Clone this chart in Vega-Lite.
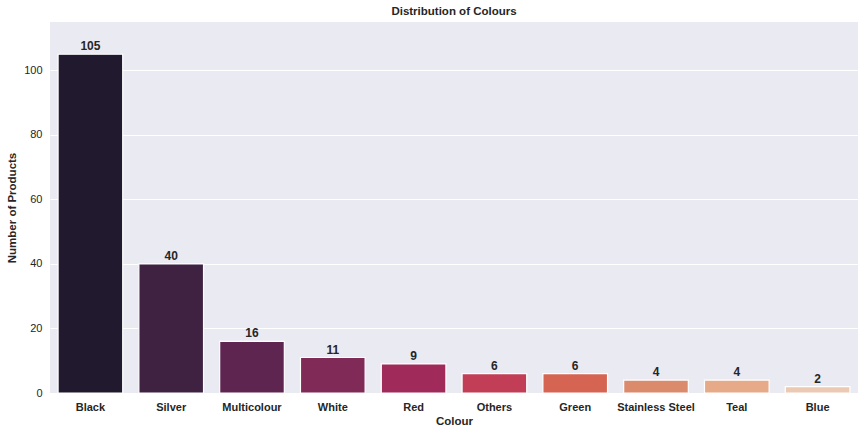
{
  "$schema": "https://vega.github.io/schema/vega-lite/v6.json",
  "autosize": {"type": "none"},
  "width": 808,
  "height": 371,
  "padding": {"left": 50, "top": 22, "right": 8, "bottom": 41},
  "background": "white",
  "title": {
    "text": "Distribution of Colours",
    "font": "Liberation Sans",
    "fontSize": 11.5,
    "fontWeight": "bold",
    "color": "#262626",
    "offset": 5
  },
  "config": {
    "view": {"fill": "#eaeaf2", "stroke": null},
    "axis": {
      "labelFont": "Liberation Sans",
      "titleFont": "Liberation Sans",
      "labelColor": "#262626",
      "titleColor": "#262626",
      "domain": false,
      "ticks": false
    }
  },
  "data": {
    "values": [
      {"Colour": "Black", "Count": 105},
      {"Colour": "Silver", "Count": 40},
      {"Colour": "Multicolour", "Count": 16},
      {"Colour": "White", "Count": 11},
      {"Colour": "Red", "Count": 9},
      {"Colour": "Others", "Count": 6},
      {"Colour": "Green", "Count": 6},
      {"Colour": "Stainless Steel", "Count": 4},
      {"Colour": "Teal", "Count": 4},
      {"Colour": "Blue", "Count": 2}
    ]
  },
  "encoding": {
    "x": {
      "field": "Colour",
      "type": "nominal",
      "sort": null,
      "scale": {"paddingInner": 0.2, "paddingOuter": 0.1},
      "axis": {
        "title": "Colour",
        "labelAngle": 0,
        "labelFontSize": 11,
        "labelFontWeight": "bold",
        "labelPadding": 8,
        "titleFontSize": 11.5,
        "titleFontWeight": "bold",
        "titlePadding": 3,
        "grid": false
      }
    },
    "y": {
      "field": "Count",
      "type": "quantitative",
      "scale": {"domain": [0, 115], "nice": false},
      "axis": {
        "title": "Number of Products",
        "values": [0, 20, 40, 60, 80, 100],
        "labelFontSize": 11,
        "labelPadding": 8,
        "titleFontSize": 11.5,
        "titleFontWeight": "bold",
        "titlePadding": 6,
        "grid": true,
        "gridColor": "white",
        "gridWidth": 1.2
      }
    }
  },
  "layer": [
    {
      "mark": {"type": "bar", "stroke": "white", "strokeWidth": 1.2},
      "encoding": {
        "color": {
          "field": "Colour",
          "type": "nominal",
          "sort": null,
          "legend": null,
          "scale": {
            "domain": ["Black", "Silver", "Multicolour", "White", "Red", "Others", "Green", "Stainless Steel", "Teal", "Blue"],
            "range": ["#211a2e", "#3f2142", "#5e2550", "#7f2a57", "#a02a59", "#c13e56", "#d56452", "#dc8a6c", "#e6aa89", "#ebc9b3"]
          }
        }
      }
    },
    {
      "mark": {
        "type": "text",
        "baseline": "bottom",
        "dy": -1,
        "font": "Liberation Sans",
        "fontSize": 12,
        "fontWeight": "bold",
        "color": "#262626"
      },
      "encoding": {"text": {"field": "Count", "type": "quantitative"}}
    }
  ]
}
